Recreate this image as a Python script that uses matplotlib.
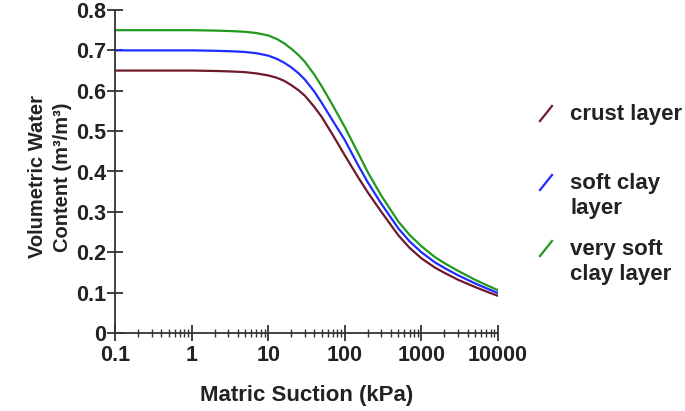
import numpy as np
import matplotlib
matplotlib.use("Agg")
import matplotlib.pyplot as plt
from matplotlib.lines import Line2D
from matplotlib.ticker import LogLocator, FixedLocator, NullFormatter

# =========================
# DATA
# =========================
suction = [0.1, 0.3, 1, 2, 3, 4, 5, 7, 10, 13, 16, 20, 25, 30, 40, 50, 70, 100,
           150, 200, 300, 500, 700, 1000, 1500, 2000, 3000, 5000, 7000, 10000]

crust = [0.650, 0.650, 0.650, 0.649, 0.648, 0.647, 0.646, 0.643, 0.638, 0.632,
         0.625, 0.614, 0.601, 0.588, 0.560, 0.535, 0.490, 0.440, 0.385, 0.348,
         0.300, 0.242, 0.211, 0.185, 0.162, 0.149, 0.132, 0.114, 0.103, 0.092]
soft_clay = [0.700, 0.700, 0.700, 0.699, 0.698, 0.697, 0.696, 0.693, 0.687, 0.679,
             0.670, 0.658, 0.643, 0.628, 0.598, 0.570, 0.525, 0.478, 0.415, 0.373,
             0.320, 0.259, 0.227, 0.200, 0.175, 0.161, 0.143, 0.123, 0.111, 0.099]
very_soft = [0.750, 0.750, 0.750, 0.749, 0.748, 0.747, 0.746, 0.743, 0.737, 0.728,
             0.718, 0.704, 0.688, 0.672, 0.640, 0.611, 0.563, 0.510, 0.445, 0.398,
             0.340, 0.276, 0.243, 0.215, 0.188, 0.173, 0.154, 0.132, 0.119, 0.106]

labels = ["crust layer", "soft clay\nlayer", "very soft\nclay layer"]
colors = ["#6e1a2a", "#1f2cff", "#1f9a1f"]

x_ticks = [0.1, 1, 10, 100, 1000, 10000]
x_ticklabels = ["0.1", "1", "10", "100", "1000", "10000"]
y_ticks = [0, 0.1, 0.2, 0.3, 0.4, 0.5, 0.6, 0.7, 0.8]
y_ticklabels = ["0", "0.1", "0.2", "0.3", "0.4", "0.5", "0.6", "0.7", "0.8"]

plt.rcParams["font.family"] = ["Liberation Sans", "DejaVu Sans"]
plt.rcParams["font.weight"] = "bold"
txt = "#222222"

W, H = 685, 411
fig = plt.figure(figsize=(W / 100, H / 100), dpi=100)
ax = fig.add_axes([115 / W, 1 - 333 / H, (498 - 115) / W, (333 - 10) / H])

for ys, c in zip([crust, soft_clay, very_soft], colors):
    ax.plot(suction, ys, color=c, lw=1.6)

ax.set_xscale("log")
ax.set_xlim(0.1, 10000)
ax.set_ylim(0, 0.8)

ax.xaxis.set_major_locator(FixedLocator(x_ticks))
ax.set_xticklabels(x_ticklabels)
ax.xaxis.set_minor_locator(LogLocator(base=10, subs=np.arange(2, 10)))
ax.xaxis.set_minor_formatter(NullFormatter())
ax.set_yticks(y_ticks)
ax.set_yticklabels(y_ticklabels)

for s in ["top", "right"]:
    ax.spines[s].set_visible(False)
for s in ["left", "bottom"]:
    ax.spines[s].set_color("#333333")
    ax.spines[s].set_linewidth(1.3)

ax.tick_params(axis="both", which="major", direction="inout", length=11,
               width=1.3, color="#333333", labelsize=15.5, labelcolor=txt)
ax.tick_params(axis="x", which="major", pad=3)
ax.tick_params(axis="y", which="major", pad=1)
ax.tick_params(axis="x", which="minor", direction="inout", length=6,
               width=1.0, color="#333333")

ax.set_xlabel("Matric Suction (kPa)", fontsize=16, fontweight="bold",
              labelpad=14, color=txt)
fig.text(50 / W, 1 - 177 / H, "Volumetric Water\nContent (m\u00b3/m\u00b3)",
         rotation=90, ha="center", va="center", multialignment="center",
         fontsize=14.5, fontweight="bold", linespacing=1.35, color=txt)

# legend, drawn by hand (diagonal handles next to the first text line)
legend_rows = [113, 182, 248]
for lab, c, yc in zip(labels, colors, legend_rows):
    fig.add_artist(Line2D([540 / W, 552 / W], [1 - (yc + 8) / H, 1 - (yc - 7) / H],
                          color=c, lw=1.6))
    fig.text(570 / W, 1 - (yc - 9) / H, lab, ha="left", va="top",
             fontsize=16, fontweight="bold", linespacing=1.25, color=txt)

fig.savefig("out.png", dpi=100)
